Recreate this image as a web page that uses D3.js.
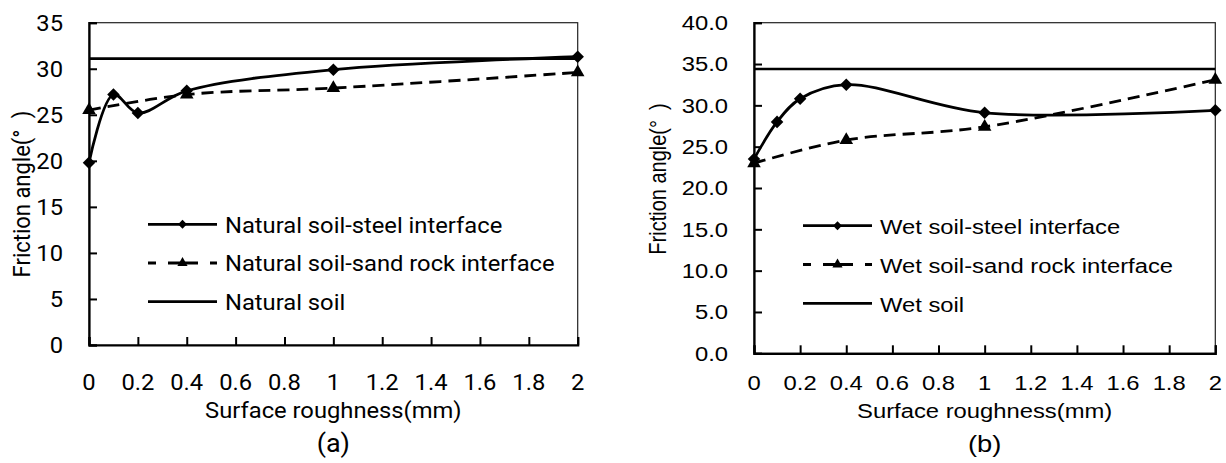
<!DOCTYPE html>
<html>
<head>
<meta charset="utf-8">
<script src="https://cdn.jsdelivr.net/npm/d3@7"></script>
<style>
  body { margin: 0; background: #fff; }
</style>
</head>
<body>
<div id="chart-area"></div>
<script>
// surface roughness (mm)
const steelX = [0, 0.1, 0.2, 0.4, 1, 2]
const rockX = [0, 0.4, 1, 2]
const xTicks = [0, 0.2, 0.4, 0.6, 0.8, 1, 1.2, 1.4, 1.6, 1.8, 2]

// (a) natural soil
const naturalSteel = [19.8, 27.2, 25.2, 27.6, 29.9, 31.3]
const naturalRock = [25.5, 27.2, 27.9, 29.6]
const naturalSoil = 31.1
const naturalTicks = [0, 5, 10, 15, 20, 25, 30, 35]
const naturalLabels = ["Natural soil-steel interface", "Natural soil-sand rock interface", "Natural soil"]

// (b) wet soil
const wetSteel = [23.5, 28.0, 30.8, 32.5, 29.1, 29.4]
const wetRock = [23.0, 25.8, 27.4, 33.1]
const wetSoil = 34.4
const wetTicks = [0, 5, 10, 15, 20, 25, 30, 35, 40]
const wetLabels = ["Wet soil-steel interface", "Wet soil-sand rock interface", "Wet soil"]

const W = 1226, H = 463

const svg = d3.select("#chart-area").append("svg")
    .attr("width", W)
    .attr("height", H)

const diamond = d3.symbol().type(d3.symbolDiamond2)
const triangle = d3.symbol().type(d3.symbolTriangle)

function drawPanel(p) {
    const x = d3.scaleLinear().domain([0, 2]).range([p.left, p.right])
    const y = d3.scaleLinear().domain([0, p.yMax]).range([p.bottom, p.top])
    const g = svg.append("g").attr("font-family", p.font).attr("fill", "#000")
    // text is a bit wider than the font in the original
    const at = (tx, ty) => `translate(${tx}, ${ty}) scale(${p.sx}, 1)`

    // frame (top / right thin)
    g.append("rect")
        .attr("x", p.left).attr("y", p.top)
        .attr("width", p.right - p.left).attr("height", p.bottom - p.top)
        .attr("fill", "none").attr("stroke", "#222").attr("stroke-width", 1.2)

    // axes, ticks inside
    const xAxis = g.append("g")
        .attr("transform", `translate(0, ${p.bottom})`)
        .call(d3.axisTop(x).tickValues(xTicks).tickSize(8).tickFormat(""))
    const yAxis = g.append("g")
        .attr("transform", `translate(${p.left}, 0)`)
        .call(d3.axisRight(y).tickValues(p.yTicks).tickSize(8).tickFormat(""))
    ;[xAxis, yAxis].forEach(a => {
        a.select(".domain").attr("stroke", "#000").attr("stroke-width", 2.2)
        a.selectAll(".tick line").attr("stroke", "#000").attr("stroke-width", 2)
    })

    // tick labels
    g.selectAll(".xlab").data(xTicks).enter().append("text")
        .attr("transform", d => at(x(d), 389.5))
        .attr("text-anchor", "middle")
        .attr("font-size", p.fs)
        .text(d => String(+d.toFixed(1)))
    g.selectAll(".ylab").data(p.yTicks).enter().append("text")
        .attr("transform", d => at(p.left - 26, y(d)))
        .attr("dy", "0.36em")
        .attr("text-anchor", "end")
        .attr("font-size", p.fs)
        .text(d => d3.format(p.fmt)(d))

    // titles
    g.append("text")
        .attr("transform", at((p.left + p.right) / 2, 418))
        .attr("text-anchor", "middle")
        .attr("font-size", p.fs)
        .text("Surface roughness(mm)")
    g.append("text")
        .attr("transform", at((p.left + p.right) / 2, 452))
        .attr("text-anchor", "middle")
        .attr("font-size", p.fs + 3)
        .text(p.tag)
    const yt = g.append("text")
        .attr("transform", `translate(${p.ytX}, ${p.ytY}) rotate(-90) scale(1, ${p.sx})`)
        .attr("text-anchor", "middle")
        .attr("dy", "0.35em")
        .attr("font-size", p.fs)
    yt.append("tspan").text("Friction angle(")
    yt.append("tspan").text("°\u2002)")

    // reference soil line
    g.append("line")
        .attr("x1", x(0)).attr("x2", x(2))
        .attr("y1", y(p.soil)).attr("y2", y(p.soil))
        .attr("stroke", "#000").attr("stroke-width", 2.6)

    const line = d3.line()
        .x(d => x(d[0]))
        .y(d => y(d[1]))
        .curve(d3.curveCatmullRom.alpha(0.5))

    const steel = steelX.map((v, i) => [v, p.steel[i]])
    const rock = rockX.map((v, i) => [v, p.rock[i]])

    g.append("path").datum(rock)
        .attr("d", line).attr("fill", "none")
        .attr("stroke", "#000").attr("stroke-width", 2.8)
        .attr("stroke-dasharray", "12,7")
    g.append("path").datum(steel)
        .attr("d", line).attr("fill", "none")
        .attr("stroke", "#000").attr("stroke-width", 2.8)

    g.selectAll(".tri").data(rock).enter().append("path")
        .attr("transform", d => `translate(${x(d[0])}, ${y(d[1])})`)
        .attr("d", triangle.size(80)())
    g.selectAll(".dia").data(steel).enter().append("path")
        .attr("transform", d => `translate(${x(d[0])}, ${y(d[1])})`)
        .attr("d", diamond.size(100)())

    // legend
    const lg = g.append("g")
    p.labels.forEach((lab, i) => {
        const cy = p.legY + i * p.legStep
        lg.append("line")
            .attr("x1", p.legX).attr("x2", p.legX + 69)
            .attr("y1", cy).attr("y2", cy)
            .attr("stroke", "#000").attr("stroke-width", 2.8)
            .attr("stroke-dasharray", i === 1 ? "8,12,0,0,30,12,8" : null)
        if (i === 0) {
            lg.append("path").attr("transform", `translate(${p.legX + 34.5}, ${cy})`)
                .attr("d", diamond.size(50)())
        }
        if (i === 1) {
            lg.append("path").attr("transform", `translate(${p.legX + 34.5}, ${cy})`)
                .attr("d", triangle.size(45)())
        }
        lg.append("text")
            .attr("transform", at(p.legX + 77, cy + 8.4))
            .attr("font-size", p.fs)
            .text(lab)
    })
}

drawPanel({
    left: 89, right: 577.7, top: 22.7, bottom: 345, yMax: 35,
    yTicks: naturalTicks, fmt: "d", font: "Roboto, 'Noto Sans', sans-serif", fs: 22, sx: 1.08,
    steel: naturalSteel, rock: naturalRock, soil: naturalSoil, labels: naturalLabels,
    tag: "(a)", ytX: 22, ytY: 194, legX: 148, legY: 224.3, legStep: 38.7
})

drawPanel({
    left: 754, right: 1215.3, top: 22.7, bottom: 353.3, yMax: 40,
    yTicks: wetTicks, fmt: ".1f", font: "'Liberation Sans', Arial, sans-serif", fs: 20, sx: 1.19,
    steel: wetSteel, rock: wetRock, soil: wetSoil, labels: wetLabels,
    tag: "(b)", ytX: 658, ytY: 179, legX: 803, legY: 225.7, legStep: 38.8
})
</script>
</body>
</html>
